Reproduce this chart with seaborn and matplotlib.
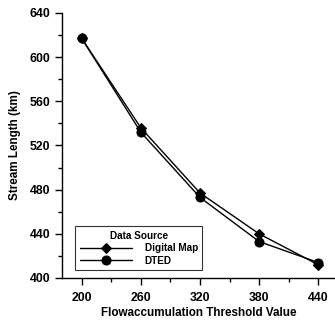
import pandas as pd
import matplotlib
matplotlib.use("Agg")
import matplotlib.pyplot as plt
from matplotlib import font_manager
import seaborn as sns

# Data
thresholds = [200, 260, 320, 380, 440]
digital_map = [617, 536, 477, 440, 412]
dted = [617, 532, 473, 433, 414]

df = pd.DataFrame({
    'threshold': thresholds * 2,
    'length': digital_map + dted,
    'source': ['Digital Map'] * 5 + ['DTED'] * 5,
})

sns.set_style("ticks")

# use the regular-width Liberation Sans Bold (avoid the Narrow variant)
bold_files = [f.fname for f in font_manager.fontManager.ttflist
              if f.name == 'Liberation Sans' and f.weight in (700, 'bold')
              and f.style == 'normal' and 'Narrow' not in f.fname]
if bold_files:
    fam = font_manager.FontProperties(fname=bold_files[0]).get_name()
else:
    fam = 'DejaVu Sans'
plt.rcParams['font.family'] = [fam, 'DejaVu Sans']
plt.rcParams['font.weight'] = 'bold'
plt.rcParams['text.color'] = 'black'
plt.rcParams['axes.labelcolor'] = 'black'

fig = plt.figure(figsize=(3.35, 3.22), dpi=100)
ax = fig.add_axes([62 / 335, 1 - 278 / 322, 273 / 335, 265 / 322])

sns.lineplot(data=df, x='threshold', y='length', hue='source', style='source',
             palette=['black', 'black'], markers={'Digital Map': 'D', 'DTED': 'o'},
             dashes=False, linewidth=1, markeredgecolor='black', ax=ax)
for line, ms in zip(ax.lines, [5, 6.5]):
    line.set_markersize(ms)

ax.set_xlim(180, 457)
ax.set_ylim(400, 640)
ax.set_xticks(thresholds)
ax.set_xticks([230, 290, 350, 410], minor=True)
ax.set_yticks(range(400, 641, 40))
ax.set_yticks(range(420, 640, 40), minor=True)
ax.tick_params(which='both', direction='out', color='black', width=1,
               labelsize=8.8, labelcolor='black')
ax.tick_params(which='major', length=5)
ax.tick_params(which='minor', length=3)
ax.tick_params(axis='x', which='major', pad=5)
for s in ['left', 'bottom']:
    ax.spines[s].set_color('black')
    ax.spines[s].set_linewidth(1)
sns.despine(ax=ax)

ax.set_xlabel('Flowaccumulation Threshold Value', fontsize=8.4, fontweight='bold', labelpad=2)
ax.set_ylabel('Stream Length (km)', fontsize=8.4, fontweight='bold', labelpad=6)

handles, labels = ax.get_legend_handles_labels()
for h, ms in zip(handles, [5, 6.5]):
    h.set_markersize(ms)
leg = ax.legend(handles, labels, title='Data Source', loc='lower left',
                bbox_to_anchor=(0.03, 0.01), fontsize=7.2, title_fontsize=7.2,
                frameon=True, fancybox=False, edgecolor='black', handlelength=5.2,
                borderpad=0.45, labelspacing=0.25, handletextpad=1.3)
leg.get_frame().set_linewidth(0.8)
leg.get_title().set_fontweight('bold')

fig.savefig('out.png', dpi=100)
